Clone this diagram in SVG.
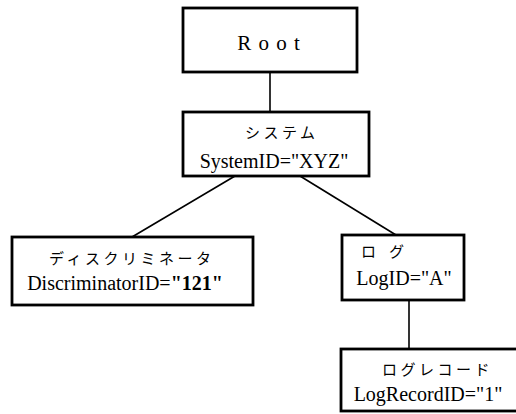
<svg xmlns="http://www.w3.org/2000/svg" width="516" height="414" viewBox="0 0 516 414">
  <style>
    .box { fill: #fff; stroke: #000; stroke-width: 2.8; }
    .edge { stroke: #000; stroke-width: 1.6; fill: none; }
    .lat { font-family: "Liberation Serif", "Times New Roman", serif; font-size: 20px; fill: #000; text-anchor: middle; }
    .jp { font-family: "Noto Sans CJK JP", sans-serif; font-size: 15px; fill: #000; letter-spacing: 3.5px; }
    .root { font-family: "Liberation Serif", "Times New Roman", serif; font-size: 21px; fill: #000; text-anchor: middle; letter-spacing: 1px; }
  </style>
  <rect width="516" height="414" fill="#fff"/>

  <g id="connectors">
    <line class="edge" x1="270" y1="72" x2="270" y2="112"/>
    <line class="edge" x1="235" y1="176" x2="132" y2="237"/>
    <line class="edge" x1="300" y1="176" x2="396" y2="235"/>
    <line class="edge" x1="409" y1="300" x2="409" y2="349"/>
  </g>

  <g id="root">
    <rect class="box" x="183" y="8" width="174" height="64"/>
    <text class="root" x="269" y="50">R o o t</text>
  </g>

  <g id="system">
    <rect class="box" x="183" y="112" width="186" height="64"/>
    <text class="jp" x="245" y="138">システム</text>
    <text class="lat" x="274" y="168">SystemID="XYZ"</text>
  </g>

  <g id="discriminator">
    <rect class="box" x="12" y="237" width="241" height="68"/>
    <text class="jp" x="49" y="264">ディスクリミネータ</text>
    <text class="lat" x="125" y="290">DiscriminatorID=<tspan font-weight="bold">"121"</tspan></text>
  </g>

  <g id="log">
    <rect class="box" x="342" y="235" width="122" height="65"/>
    <text class="jp" x="361 389" y="257" letter-spacing="0">ログ</text>
    <text class="lat" x="404" y="285">LogID="A"</text>
  </g>

  <g id="logrecord">
    <rect class="box" x="341" y="349" width="190" height="62"/>
    <text class="jp" x="382" y="375">ログレコード</text>
    <text class="lat" x="428" y="401">LogRecordID="1"</text>
  </g>
</svg>
